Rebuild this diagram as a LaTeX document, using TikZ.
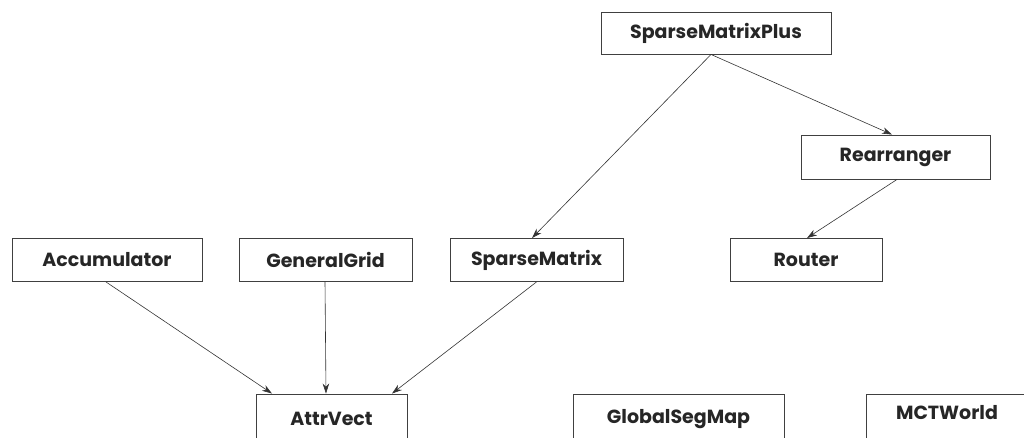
\documentclass[tikz,border=0pt]{standalone}
\usepackage{fontspec}
\setmainfont{Poppins}
\usetikzlibrary{arrows.meta}
\tikzset{
  cls/.style={draw=black!75, line width=0.9pt, fill=white, inner sep=0pt, minimum height=43pt,
    font=\fontsize{19}{22}\selectfont\bfseries, text=black!85},
  dep/.style={draw=black!80, line width=0.6pt, -{Stealth[length=10pt,width=6.5pt]}}
}
\begin{document}
\begin{tikzpicture}[x=1pt,y=-1pt]
\useasboundingbox (0,0) rectangle (1024,438);
\clip (0,0) rectangle (1024,437);
\node[cls, minimum width=230pt, minimum height=42pt] (smp) at (716,33) {SparseMatrixPlus};
\node[cls, minimum width=189pt, minimum height=44pt] (rea) at (895.5,157) {Rearranger};
\node[cls, minimum width=190pt] (acc) at (107,260) {Accumulator};
\node[cls, minimum width=173pt] (gg) at (325.5,260) {GeneralGrid};
\node[cls, minimum width=173pt] (sm) at (536.5,260) {SparseMatrix};
\node[cls, minimum width=152pt] (rt) at (806,260) {Router};
\node[cls, minimum width=151pt, minimum height=50pt] (av) at (331.5,419) {AttrVect};
\node[cls, minimum width=211pt, minimum height=50pt] (gsm) at (678.5,419) {GlobalSegMap};
\node[cls, minimum width=162pt, minimum height=50pt, text depth=14pt] (mct) at (947,419) {MCTWorld};
\draw[dep] ([xshift=-5pt]smp.south) -- ([xshift=-4.5pt]sm.north);
\draw[dep] ([xshift=-5pt]smp.south) -- ([xshift=-3.5pt]rea.north);
\draw[dep] ([xshift=1.5pt]rea.south) -- ([xshift=1pt]rt.north);
\draw[dep] ([xshift=-1pt]acc.south) -- ([xshift=-59.5pt]av.north);
\draw[dep] ([xshift=-0.5pt]gg.south) -- ([xshift=-5.5pt]av.north);
\draw[dep] (sm.south) -- ([xshift=60.5pt]av.north);
\end{tikzpicture}
\end{document}
